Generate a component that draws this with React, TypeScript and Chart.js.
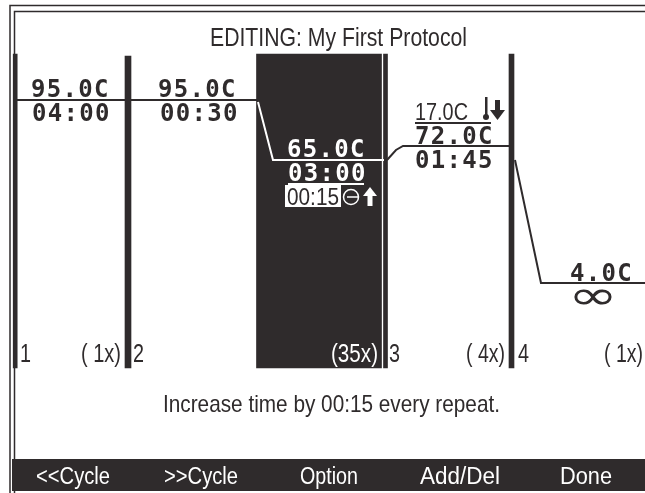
import { useEffect, useRef } from "react";
import { Chart, registerables } from "chart.js";

Chart.register(...registerables);

// Protocol data
const stepNumbers = ["1", "2", "3", "4"];
const repeats = ["( 1x)", "(35x)", "( 4x)", "( 1x)"];
const temperatures = ["95.0C", "95.0C", "65.0C", "72.0C", "4.0C"];
const holdTimes = ["04:00", "00:30", "03:00", "01:45"];
const softKeys = ["<<Cycle", ">>Cycle", "Option", "Add/Del", "Done"];
const titleText = "EDITING: My First Protocol";
const captionText = "Increase time by 00:15 every repeat.";
const tempStepText = "17.0C";
const timeStepText = "00:15";

// Thermal profile, position along the run (x) against temperature in C (y)
const profileBefore = [
  { x: 16, y: 95 },
  { x: 257, y: 95 },
];
const profileHighlighted = [
  { x: 258, y: 94 },
  { x: 273, y: 65 },
  { x: 384, y: 65 },
];
const profileAfter = [
  { x: 387, y: 65 },
  { x: 396, y: 70 },
  { x: 403, y: 72 },
  { x: 510, y: 72 },
];
const profileFinal = [
  { x: 515, y: 65 },
  { x: 541, y: 3.5 },
  { x: 645, y: 3.5 },
];

// Cycle dividers and selected cycle
const dividers = [
  { x: 15.2, width: 4, top: 118, bottom: -39 },
  { x: 128, width: 6, top: 117, bottom: -39 },
  { x: 385.5, width: 4, top: 118, bottom: -39 },
  { x: 511.5, width: 5, top: 118, bottom: -39 },
];
const selectedCycle = { x: 319, width: 125, top: 118, bottom: -39 };

const INK = "#2f2b2c";
const MONO = "bold 24px 'DejaVu Sans Mono'";
const SANS = "'Liberation Sans'";

const screenPlugin = {
  id: "screen",
  beforeDraw(chart: any) {
    const c = chart.ctx;
    c.save();
    c.fillStyle = "#ffffff";
    c.fillRect(0, 0, 645, 493);
    c.strokeStyle = INK;
    c.lineWidth = 1.5;
    c.beginPath();
    c.moveTo(10, 493);
    c.lineTo(10, 5.5);
    c.lineTo(645, 5.5);
    c.moveTo(14.5, 493);
    c.lineTo(14.5, 11.5);
    c.lineTo(645, 11.5);
    c.stroke();
    c.fillStyle = INK;
    c.fillRect(12, 459, 633, 32);
    c.restore();
  },
  afterDatasetsDraw(chart: any) {
    const c = chart.ctx;
    const yS = chart.scales.y;
    const mono = (s: string, x: number, y: number, color = INK) => {
      c.font = MONO;
      c.fillStyle = color;
      c.textAlign = "left";
      c.textBaseline = "alphabetic";
      c.letterSpacing = "1.3px";
      c.fillText(s, x, y);
      c.letterSpacing = "0px";
    };
    // Narrow LCD-style text: squeezed horizontally to span x0..x1
    const fit = (s: string, x0: number, x1: number, y: number, size: number, color = INK, family = SANS) => {
      c.save();
      c.font = `${size}px ${family}`;
      c.fillStyle = color;
      c.textAlign = "left";
      c.textBaseline = "alphabetic";
      const w = c.measureText(s).width;
      c.translate(x0, y);
      c.scale((x1 - x0) / w, 1);
      c.fillText(s, 0, 0);
      c.restore();
    };
    c.save();

    fit(titleText, 210, 467, 46, 25);

    // Temperature and hold time, hung off the profile line
    const y95 = yS.getPixelForValue(95);
    const y65 = yS.getPixelForValue(65);
    const y72 = yS.getPixelForValue(72);
    const y4 = yS.getPixelForValue(3.5);
    mono(temperatures[0], 31, y95 - 3);
    mono(holdTimes[0], 32, y95 + 21);
    mono(temperatures[1], 158, y95 - 3);
    mono(holdTimes[1], 160, y95 + 21);
    mono(temperatures[2], 287, y65 - 3, "#ffffff");
    mono(holdTimes[2], 288, y65 + 21, "#ffffff");
    mono(temperatures[3], 415, y72 - 2);
    mono(holdTimes[3], 415, y72 + 22);
    mono(temperatures[4], 570, y4 - 2);

    // Infinity hold
    fit("\u221E", 568, 618, 309, 40, INK, "'DejaVu Sans'");

    // Auto-delta temperature, underlined
    fit(tempStepText, 415, 468, 120, 24);
    c.fillStyle = INK;
    c.fillRect(415, 122, 76, 2);

    // Thermometer + down arrow
    c.fillRect(485, 97, 2.5, 20);
    c.beginPath();
    c.arc(486, 117, 3, 0, Math.PI * 2);
    c.fill();
    c.fillRect(495, 100, 5, 11);
    c.beginPath();
    c.moveTo(490, 110);
    c.lineTo(505, 110);
    c.lineTo(497.5, 120);
    c.closePath();
    c.fill();

    // Auto-delta time box
    c.fillStyle = "#ffffff";
    c.fillRect(288, 183, 76, 2);
    c.fillRect(285, 185, 56, 22);
    fit(timeStepText, 287, 339, 205, 24);

    // Clock + up arrow
    c.strokeStyle = "#ffffff";
    c.lineWidth = 1.5;
    c.beginPath();
    c.arc(351, 197, 7.5, 0, Math.PI * 2);
    c.moveTo(347, 197);
    c.lineTo(358, 197);
    c.stroke();
    c.fillStyle = "#ffffff";
    c.fillRect(367.5, 194, 5, 12);
    c.beginPath();
    c.moveTo(363, 196);
    c.lineTo(377, 196);
    c.lineTo(370, 187);
    c.closePath();
    c.fill();

    // Step numbers and repeat counts
    const stepX = [20, 133, 389, 518];
    stepNumbers.forEach((s, i) => fit(s, stepX[i], stepX[i] + 11, 362, 26));
    const repSpan = [
      [81, 121],
      [331, 378],
      [466, 505],
      [604, 643],
    ];
    repeats.forEach((s, i) => fit(s, repSpan[i][0], repSpan[i][1], 362, 26, i === 1 ? "#ffffff" : INK));

    fit(captionText, 163, 500, 412, 24);

    const keySpan = [
      [36, 110],
      [164, 238],
      [300, 358],
      [420, 500],
      [560, 612],
    ];
    softKeys.forEach((s, i) => fit(s, keySpan[i][0], keySpan[i][1], 484, 23, "#ffffff"));

    c.restore();
  },
};

const lineDs = (data: { x: number; y: number }[], color: string) => ({
  type: "line" as const,
  data,
  borderColor: color,
  borderWidth: 2,
  pointRadius: 0,
  tension: 0,
  order: 1,
  parsing: false as const,
});

export default function App() {
  const ref = useRef<HTMLCanvasElement>(null);
  useEffect(() => {
    document.body.style.margin = "0";
    const barDs = (b: { x: number; width: number; top: number; bottom: number }, order: number) => ({
      type: "bar" as const,
      data: [{ x: b.x, y: [b.bottom, b.top] }],
      backgroundColor: INK,
      barThickness: b.width,
      grouped: false,
      borderWidth: 0,
      order,
    });
    const chart = new Chart(ref.current!, {
      data: {
        datasets: [
          barDs(selectedCycle, 3),
          ...dividers.map((d) => barDs(d, 2)),
          lineDs(profileBefore, INK),
          lineDs(profileHighlighted, "#ffffff"),
          lineDs(profileAfter, INK),
          lineDs(profileFinal, INK),
        ],
      } as any,
      options: {
        responsive: false,
        animation: false,
        layout: { padding: 0 },
        plugins: { legend: { display: false }, tooltip: { enabled: false } },
        scales: {
          x: { type: "linear", display: false, min: 0, max: 645, offset: false },
          y: { type: "linear", display: false, min: -101.5, max: 145 },
        },
      },
      plugins: [screenPlugin],
    });
    return () => chart.destroy();
  }, []);
  return <canvas ref={ref} width={645} height={493} style={{ display: "block" }} />;
}
